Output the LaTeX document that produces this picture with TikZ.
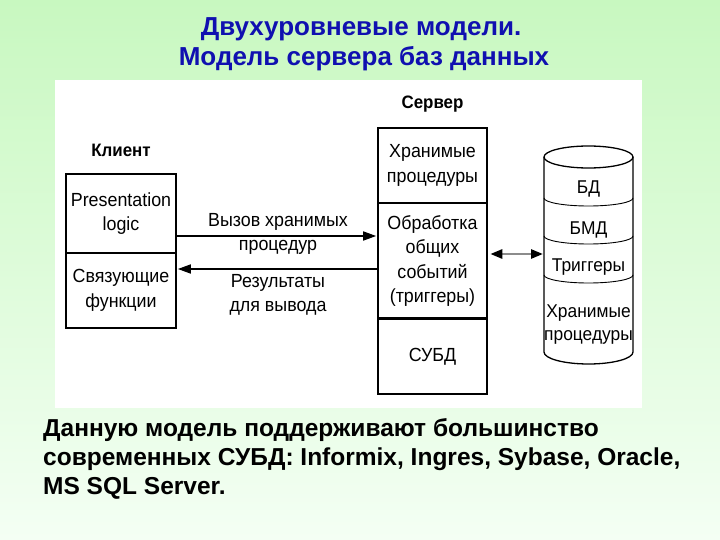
\documentclass[tikz,border=0pt]{standalone}
\usepackage{fontspec}
\setmainfont{Liberation Sans}
\newfontfamily\diagfont[FakeStretch=0.94]{Liberation Sans}
\usetikzlibrary{arrows.meta}
\definecolor{bgtop}{RGB}{200,248,192}
\definecolor{bgbot}{RGB}{244,255,244}
\definecolor{titleblue}{RGB}{16,16,176}
\definecolor{arrgray}{RGB}{140,140,140}
\begin{document}
\begin{tikzpicture}[x=1pt,y=1pt,
  box/.style={draw=black, line width=1.6pt, minimum width=109pt, inner sep=0pt, align=center, font=\diagfont\fontsize{19}{24.5}\selectfont},
  lbl/.style={align=center, font=\diagfont\fontsize{19}{23.5}\selectfont, inner sep=0pt},
  cyl/.style={align=center, font=\diagfont\fontsize{18.5}{23}\selectfont, inner sep=0pt},
  hdr/.style={font=\diagfont\bfseries\fontsize{18}{20}\selectfont, inner sep=0pt},
  ttl/.style={font=\bfseries\fontsize{26}{30}\selectfont, text=titleblue, anchor=base, inner sep=0pt},
  note/.style={font=\bfseries\fontsize{24.5}{29}\selectfont, anchor=base west, inner sep=0pt},
  arr/.style={line width=1.6pt, -{Triangle[length=13pt,width=9pt]}},
  darr/.style={line width=2.6pt, draw=arrgray, {Triangle[length=12pt,width=9pt,color=black]}-{Triangle[length=12pt,width=9pt,color=black]}},
  cylline/.style={line width=1.3pt},
  cyldiv/.style={line width=0.9pt}
]
\useasboundingbox (0,0) rectangle (720,-540);
\shade[top color=bgtop,bottom color=bgbot] (0,0) rectangle (720,-540);
\fill[white] (55,-80) rectangle (642,-408);

% title
\node[ttl] (t1) at (361,-36) {Двухуровневые модели.};
\node[ttl] (t2) at (364,-66) {Модель сервера баз данных};

% client
\node[hdr] (klient) at (121,-150) {Клиент};
\node[box, minimum height=79pt, minimum width=110pt] (cTop) at (121,-213.5) {Presentation\\logic};
\node[box, minimum height=75pt, minimum width=110pt] (cBot) at (121,-290.5) {Связующие\\функции};

% server
\node[hdr] (server) at (432.5,-104) {Сервер};
\node[box, minimum height=75pt] (sTop) at (432.5,-165.5) {Хранимые\\процедуры};
\node[box, minimum height=116pt] (sMid) at (432.5,-261) {Обработка\\общих\\событий\\(триггеры)};
\node[box, minimum height=75pt] (sBot) at (432.5,-356.5) {СУБД};
\draw[line width=3pt] (sBot.north west) -- (sBot.north east);

% arrows client <-> server
\draw[arr, shorten >=1pt] ([yshift=-22.5pt]cTop.east) -- ([yshift=-22.5pt]cTop.east -| sMid.west);
\node[lbl] (call) at (278,-234) {Вызов хранимых\\процедур};
\draw[arr, shorten >=1pt] ([yshift=-8pt]sMid.west) -- ([yshift=-8pt]sMid.west -| cBot.east);
\node[lbl] (res) at (278,-295) {Результаты\\для вывода};

% database cylinder
\draw[cylline] (544,-157) -- (544,-352) arc[start angle=180,end angle=360,x radius=44.5,y radius=12] -- (633,-157);
\draw[cylline] (588.5,-157) ellipse[x radius=44.5,y radius=11];
\draw[cyldiv] (544,-198) arc[start angle=180,end angle=360,x radius=44.5,y radius=8];
\draw[cyldiv] (544,-236) arc[start angle=180,end angle=360,x radius=44.5,y radius=8];
\draw[cyldiv] (544,-275) arc[start angle=180,end angle=360,x radius=44.5,y radius=8];
\coordinate (cylW) at (544,-254);
\node[cyl] (bd) at (588.5,-189) {БД};
\node[cyl] (bmd) at (588.5,-230) {БМД};
\node[cyl] (trig) at (588.5,-267) {Триггеры};
\node[cyl] (proc) at (588.5,-325) {Хранимые\\процедуры};

\draw[darr, shorten <=2.5pt, shorten >=1pt] ([yshift=7pt]sMid.east) -- (cylW);

% note
\node[note] (n1) at (43,-436) {Данную модель поддерживают большинство};
\node[note] (n2) at (43,-465) {современных СУБД: Informix, Ingres, Sybase, Oracle,};
\node[note] (n3) at (43,-494) {MS SQL Server.};
\end{tikzpicture}
\end{document}
